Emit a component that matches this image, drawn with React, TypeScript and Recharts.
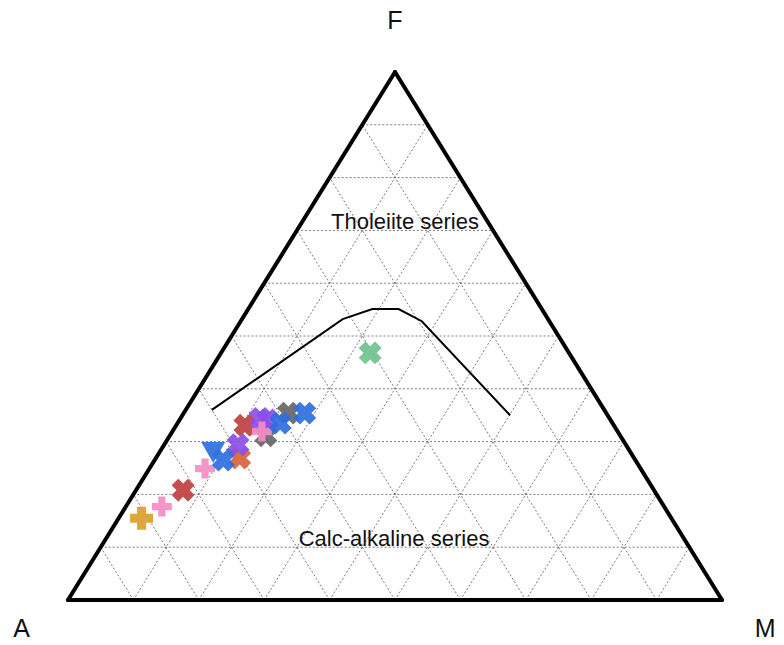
import React from "react";
import { ScatterChart, Scatter, XAxis, YAxis, ReferenceLine, ReferenceDot } from "recharts";

// ternary values as [A, F, M] percentages
type Tern = [number, number, number];

const boundaryCurve: Tern[] = [
  [60, 36, 4],
  [31.4, 53.2, 15.4],
  [25.9, 55.1, 19],
  [21.9, 55.1, 23],
  [19.5, 52.8, 27.7],
  [14.9, 35, 50.1],
];

const orangePlus: Tern[] = [[81, 15.5, 3.5]];
const pinkPlus: Tern[] = [
  [76.8, 17.7, 5.5],
  [66.6, 24.9, 8.5],
  [54.4, 31.9, 13.7],
];
const redX: Tern[] = [
  [72, 20.8, 7.2],
  [56.4, 33.1, 10.5],
];
const orangeX: Tern[] = [[60.3, 26.9, 12.8]];
const purpleX: Tern[] = [
  [59.3, 29.4, 11.3],
  [53.4, 34.4, 12.2],
  [52.4, 34.1, 13.5],
];
const grayX: Tern[] = [
  [54.2, 31.1, 14.7],
  [48.6, 35.4, 16],
];
const blueX: Tern[] = [
  [63, 26.5, 10.5],
  [50.8, 33.5, 15.7],
  [46.1, 35.4, 18.5],
];
const blueTriangle: Tern[] = [[63.6, 28.4, 8]];
const greenX: Tern[] = [[30.4, 46.8, 22.8]];

const gridSteps = [0.1, 0.2, 0.3, 0.4, 0.5, 0.6, 0.7, 0.8, 0.9];

const toXY = ([a, f, m]: Tern) => {
  const s = a + f + m;
  return { x: (m + f / 2) / s, y: f / s };
};

const crossPath = (L: number, w: number) =>
  `M${-w},${-L}H${w}V${-w}H${L}V${w}H${w}V${L}H${-w}V${w}H${-L}V${-w}H${-w}Z`;

const makeX = (color: string) => (props: any) => {
  const { cx, cy } = props;
  if (cx == null || cy == null) return <g />;
  return (
    <path
      d={crossPath(11.5, 4.7)}
      transform={`translate(${cx},${cy}) rotate(45)`}
      fill={color}
      fillOpacity={0.92}
    />
  );
};

const makePlus = (color: string, L: number, w: number) => (props: any) => {
  const { cx, cy } = props;
  if (cx == null || cy == null) return <g />;
  return <path d={crossPath(L, w)} transform={`translate(${cx},${cy})`} fill={color} fillOpacity={0.92} />;
};

const triShape = (props: any) => {
  const { cx, cy } = props;
  if (cx == null || cy == null) return <g />;
  return (
    <path
      d={`M${cx - 12},${cy - 8}L${cx + 12},${cy - 8}L${cx},${cy + 13}Z`}
      fill="#2f6fe0"
      fillOpacity={0.92}
    />
  );
};

const noShape = () => <g />;

const FONT = "Liberation Sans, Arial, sans-serif";

export default function App() {
  const gridLines: { p1: { x: number; y: number }; p2: { x: number; y: number } }[] = [];
  gridSteps.forEach((t) => {
    gridLines.push({ p1: { x: t / 2, y: t }, p2: { x: 1 - t / 2, y: t } });
    gridLines.push({ p1: { x: t, y: 0 }, p2: { x: t + (1 - t) / 2, y: 1 - t } });
    gridLines.push({ p1: { x: 1 - t, y: 0 }, p2: { x: (1 - t) / 2, y: 1 - t } });
  });

  const sides = [
    [{ x: 0, y: 0 }, { x: 1, y: 0 }],
    [{ x: 0, y: 0 }, { x: 0.5, y: 1 }],
    [{ x: 1, y: 0 }, { x: 0.5, y: 1 }],
  ];

  const texts = [
    { x: 0.5, y: 1.098, value: "F", size: 25 },
    { x: -0.071, y: -0.053, value: "A", size: 25 },
    { x: 1.066, y: -0.053, value: "M", size: 25 },
    { x: 0.5153, y: 0.7178, value: "Tholeiite series", size: 22 },
    { x: 0.4985, y: 0.1174, value: "Calc-alkaline series", size: 22 },
  ];

  return (
    <div style={{ background: "#fff", fontFamily: FONT, margin: -8, width: 784, height: 645 }}>
      <ScatterChart
        width={784}
        height={645}
        margin={{ top: 72, right: 62, bottom: 45, left: 68 }}
        style={{ overflow: "visible" }}
      >
        <XAxis type="number" dataKey="x" domain={[0, 1]} hide allowDataOverflow />
        <YAxis type="number" dataKey="y" domain={[0, 1]} hide allowDataOverflow />
        {gridLines.map((g, i) => (
          <ReferenceLine
            key={`g${i}`}
            segment={[g.p1, g.p2]}
            stroke="#555"
            strokeWidth={0.8}
            strokeDasharray="2 2"
            ifOverflow="visible"
          />
        ))}
        {sides.map((s, i) => (
          <ReferenceLine
            key={`s${i}`}
            segment={s}
            stroke="#000"
            strokeWidth={4}
            strokeLinecap="round"
            ifOverflow="visible"
          />
        ))}
        <Scatter
          data={boundaryCurve.map(toXY)}
          line={{ stroke: "#000", strokeWidth: 2 }}
          shape={noShape}
          isAnimationActive={false}
        />
        <Scatter data={orangeX.map(toXY)} shape={makeX("#d8643c")} isAnimationActive={false} />
        <Scatter data={grayX.map(toXY)} shape={makeX("#666666")} isAnimationActive={false} />
        <Scatter data={redX.map(toXY)} shape={makeX("#c0403f")} isAnimationActive={false} />
        <Scatter data={purpleX.map(toXY)} shape={makeX("#8c4ee8")} isAnimationActive={false} />
        <Scatter data={pinkPlus.map(toXY)} shape={makePlus("#f58cc4", 10, 3.6)} isAnimationActive={false} />
        <Scatter data={blueX.map(toXY)} shape={makeX("#2f6fe0")} isAnimationActive={false} />
        <Scatter data={blueTriangle.map(toXY)} shape={triShape} isAnimationActive={false} />
        <Scatter data={orangePlus.map(toXY)} shape={makePlus("#d9a02a", 11.5, 4.5)} isAnimationActive={false} />
        <Scatter data={greenX.map(toXY)} shape={makeX("#6fc28f")} isAnimationActive={false} />
        {texts.map((t, i) => (
          <ReferenceDot
            key={`t${i}`}
            x={t.x}
            y={t.y}
            r={0}
            stroke="none"
            fill="none"
            ifOverflow="visible"
            label={{ value: t.value, position: "center", fontSize: t.size, fill: "#111", fontFamily: FONT }}
          />
        ))}
      </ScatterChart>
    </div>
  );
}
